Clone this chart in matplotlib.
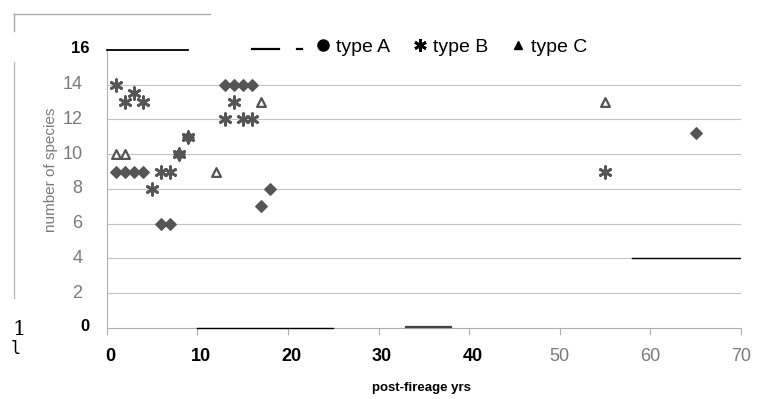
import matplotlib
matplotlib.use('Agg')
from matplotlib import pyplot as plt
from matplotlib.lines import Line2D

matplotlib.rcParams['font.family'] = 'sans-serif'
matplotlib.rcParams['font.sans-serif'] = ['Liberation Sans', 'DejaVu Sans']

# data
a_x = [1, 2, 3, 4, 6, 7, 8, 9, 13, 14, 15, 16, 17, 18, 65]
a_y = [9, 9, 9, 9, 6, 6, 10, 11, 14, 14, 14, 14, 7, 8, 11.2]

b_x = [1, 2, 3, 4, 5, 6, 7, 8, 9, 13, 14, 15, 16, 55]
b_y = [14, 13, 13.5, 13, 8, 9, 9, 10, 11, 12, 13, 12, 12, 9]

c_x = [1, 2, 12, 17, 55]
c_y = [10, 10, 9, 13, 13]

x_ticks = [0, 10, 20, 30, 40, 50, 60, 70]
y_ticks = [0, 2, 4, 6, 8, 10, 12, 14, 16]

grey = '#7a7a7a'
mark = '#555555'

fig = plt.figure(figsize=(7.63, 3.99), dpi=100)
ax = fig.add_axes([0.140, 0.178, 0.831, 0.697])
ax.set_xlim(0, 70)
ax.set_ylim(0, 16)

# chart-area frame fragments from the scan (figure pixels / size)
W, H = 763.0, 399.0
fig.add_artist(Line2D([14 / W, 210 / W], [1 - 14 / H, 1 - 14 / H], color='#aaaaaa', lw=1.0))
fig.add_artist(Line2D([14 / W, 14 / W], [1 - 14 / H, 1 - 31 / H], color='#aaaaaa', lw=1.0))
fig.add_artist(Line2D([14 / W, 14 / W], [1 - 62 / H, 1 - 298 / H], color='#bbbbbb', lw=1.0))

# grid
for yv in y_ticks[1:-1]:
    ax.axhline(yv, color='#c4c4c4', lw=0.8, zorder=0)
# the darker line bits the scan left behind
ax.plot([0, 9], [16, 16], color='black', lw=1.3, clip_on=False, zorder=5)
ax.plot([16, 19], [16.05, 16.05], color='black', lw=1.6, clip_on=False, zorder=5)
ax.plot([21, 21.6], [16.05, 16.05], color='black', lw=1.6, clip_on=False, zorder=5)
ax.plot([10, 25], [0, 0], color='black', lw=1.0, clip_on=False, zorder=5)
ax.plot([33, 38], [0.05, 0.05], color='#444444', lw=1.6, clip_on=False, zorder=5)
ax.plot([58, 70], [4, 4], color='black', lw=1.0, zorder=5)

ax.scatter(a_x, a_y, marker='D', s=34, color=mark, zorder=3)
ax.scatter(b_x, b_y, marker=(6, 2, 0), s=70, color=mark, linewidths=2.0, zorder=4)
ax.scatter(c_x, c_y, marker='^', s=40, facecolor='white', edgecolor=mark,
           linewidths=1.6, zorder=3)

for s in ['top', 'right']:
    ax.spines[s].set_visible(False)
ax.spines['left'].set_color('#b0b0b0')
ax.spines['bottom'].set_color('#b0b0b0')

ax.set_xticks(x_ticks)
ax.set_xticklabels([])
ax.set_yticks(y_ticks)
ax.set_yticklabels([])
ax.tick_params(axis='y', length=0)
ax.tick_params(axis='x', length=5, color='#b0b0b0', direction='out')

# tick labels, bold black where the scan was retyped
for xv in x_ticks:
    if xv <= 40:
        ax.text(xv + 0.4, -1.65, str(xv), ha='center', va='center',
                fontsize=13, fontweight='bold', color='black')
    else:
        ax.text(xv, -1.65, str(xv), ha='center', va='center',
                fontsize=13, color=grey)
for yv in y_ticks:
    if yv in (0, 16):
        ax.text(-1.9, yv + 0.1, str(yv), ha='right', va='center',
                fontsize=12, fontweight='bold', color='black')
    else:
        ax.text(-2.7, yv, str(yv), ha='right', va='center',
                fontsize=13, color=grey)

ax.text(-6.2, 9.1, 'number of species', rotation=90, ha='center', va='center',
        fontsize=11, color=grey)
fig.text(0.552, 0.028, 'post-fireage yrs', ha='center', va='center',
         fontsize=9.5, fontweight='bold')

fig.text(0.025, 0.175, '1', ha='center', va='center', fontsize=15, family='DejaVu Serif')
fig.text(0.021, 0.125, 'l', ha='center', va='center', fontsize=12, family='DejaVu Sans Mono')

# legend across the top
handles = [
    Line2D([], [], marker='o', color='black', ls='', markersize=8),
    Line2D([], [], marker=(6, 2, 0), color='black', ls='', markersize=9, markeredgewidth=2),
    Line2D([], [], marker='^', color='black', ls='', markersize=6),
]
fig.legend(handles, ['type A', 'type B', 'type C'], loc='center',
           bbox_to_anchor=(0.590, 0.881), ncol=3, frameon=False, fontsize=14,
           handletextpad=0.2, columnspacing=1.0, handlelength=1.0)

plt.savefig('out.png', dpi=100)
